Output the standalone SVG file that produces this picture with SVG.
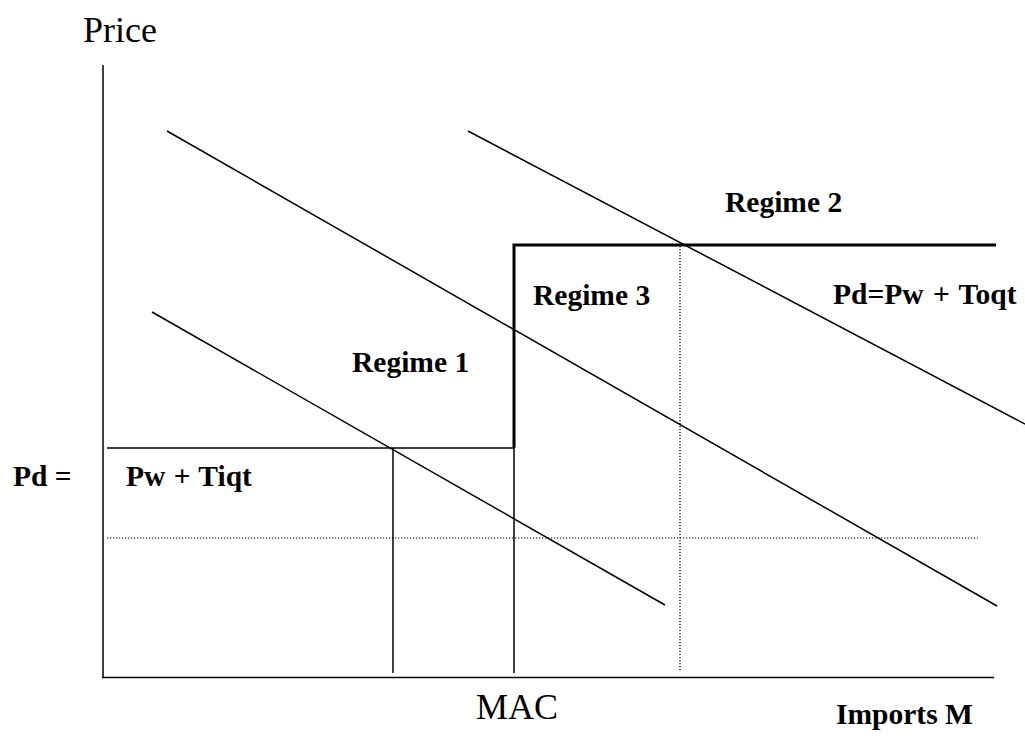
<svg xmlns="http://www.w3.org/2000/svg" width="1025" height="738" viewBox="0 0 1025 738">
<style>
.ln{stroke:#000;stroke-width:1.5;fill:none}
.thick{stroke:#000;stroke-width:3;fill:none}
.dot{stroke:#000;stroke-width:1.2;stroke-dasharray:1.3 1.7;fill:none}
.reg{font-family:"Liberation Serif","Times New Roman",serif;font-size:36px;fill:#000}
.bold{font-family:"Liberation Serif","Times New Roman",serif;font-size:29.5px;font-weight:bold;fill:#000}
</style>
<rect width="1025" height="738" fill="#fff"/>
<g id="axes">
<line class="ln" x1="103" y1="65" x2="103" y2="678"/>
<line class="ln" x1="102" y1="677.5" x2="994" y2="677.5"/>
</g>
<g id="connectors">
<line class="ln" x1="152" y1="312" x2="665" y2="605"/>
<line class="ln" x1="167" y1="131" x2="997" y2="606"/>
<line class="ln" x1="468" y1="131" x2="1025" y2="424"/>
<line class="ln" x1="107" y1="448" x2="514" y2="448"/>
<line class="ln" x1="393" y1="448" x2="393" y2="673"/>
<line class="ln" x1="514" y1="448" x2="514" y2="673"/>
<polyline class="thick" points="514,448 514,245 996,245"/>
<line class="dot" x1="680" y1="246" x2="680" y2="671"/>
<line class="dot" x1="107" y1="538" x2="978" y2="538"/>
</g>
<g id="labels">
<text class="reg" x="83" y="42">Price</text>
<text class="reg" x="476" y="719">MAC</text>
<text class="bold" x="836" y="724">Imports M</text>
<text class="bold" x="725" y="212">Regime 2</text>
<text class="bold" x="352" y="372">Regime 1</text>
<text class="bold" x="533" y="305">Regime 3</text>
<text class="bold" x="833" y="304" word-spacing="2">Pd=Pw + Toqt</text>
<text class="bold" x="126" y="486" word-spacing="1">Pw + Tiqt</text>
<text class="bold" x="13" y="486">Pd =</text>
</g>
</svg>
